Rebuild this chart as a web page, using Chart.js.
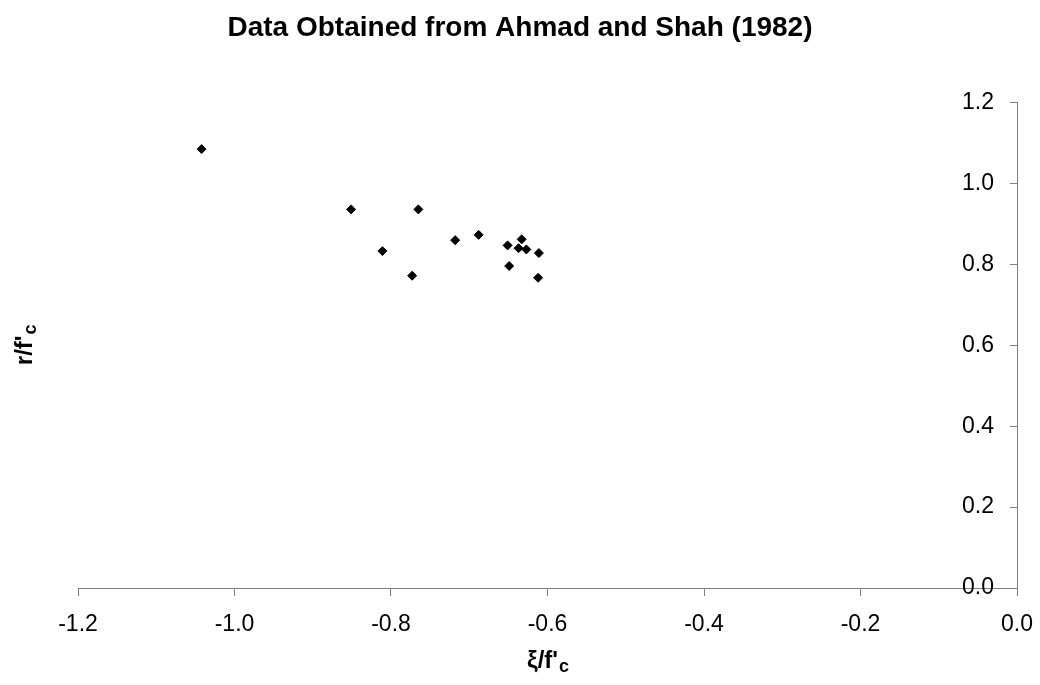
<!DOCTYPE html>
<html>
<head>
<meta charset="utf-8">
<title>Data Obtained from Ahmad and Shah (1982)</title>
<script src="https://cdn.jsdelivr.net/npm/chart.js@4.4.1/dist/chart.umd.min.js"></script>
<style>
  html, body { margin: 0; padding: 0; background: #fff; }
  canvas { display: block; }
</style>
</head>
<body>
<canvas id="scatterChart" width="1040" height="685"></canvas>
<script>
/* ---- Data ---- */
const CHART_TITLE = 'Data Obtained from Ahmad and Shah (1982)';
const X_TITLE = ['ξ/f\'', 'c'];   // main text, subscript
const Y_TITLE = ['r/f\'', 'c'];

const X_VALUES = [-1.042, -0.851, -0.765, -0.811, -0.773, -0.718, -0.688, -0.651, -0.633, -0.637, -0.627, -0.611, -0.649, -0.612];
const Y_VALUES = [1.085, 0.936, 0.936, 0.833, 0.772, 0.860, 0.873, 0.847, 0.862, 0.840, 0.837, 0.828, 0.796, 0.767];

const X_TICKS = [-1.2, -1.0, -0.8, -0.6, -0.4, -0.2, 0.0];
const Y_TICKS = [0.0, 0.2, 0.4, 0.6, 0.8, 1.0, 1.2];

/* ---- Style ---- */
const FONT_FAMILY = '"Liberation Sans", Arial, sans-serif';
const AXIS_GREY   = '#808080';

const fmt = v => (Math.abs(v) < 1e-9 ? 0 : v).toFixed(1);

/* ---- Axis titles with subscript c (Chart.js titles can't do subscripts) ---- */
function drawSubscripted(ctx, parts, cx, cy) {
  const mainFont = 'bold 24px ' + FONT_FAMILY;
  const subFont  = 'bold 18px ' + FONT_FAMILY;
  ctx.font = mainFont;
  const w1 = ctx.measureText(parts[0]).width;
  ctx.font = subFont;
  const w2 = ctx.measureText(parts[1]).width;
  const x = cx - (w1 + w2) / 2;
  ctx.textAlign = 'left';
  ctx.textBaseline = 'middle';
  ctx.font = mainFont;
  ctx.fillText(parts[0], x, cy);
  ctx.font = subFont;
  ctx.fillText(parts[1], x + w1 + 1, cy + 6);
}

const axisTitles = {
  id: 'axisTitles',
  afterDraw(chart) {
    const { ctx, chartArea } = chart;
    ctx.save();
    ctx.fillStyle = '#000';
    drawSubscripted(ctx, X_TITLE, (chartArea.left + chartArea.right) / 2, 661);
    ctx.translate(25, (chartArea.top + chartArea.bottom) / 2);
    ctx.rotate(-Math.PI / 2);
    drawSubscripted(ctx, Y_TITLE, 0, 0);
    ctx.restore();
  }
};

/* ---- Chart ---- */
const points = X_VALUES.map((x, i) => ({ x, y: Y_VALUES[i] }));

new Chart(document.getElementById('scatterChart').getContext('2d'), {
  type: 'scatter',
  data: {
    datasets: [{
      label: 'Ahmad and Shah (1982)',
      data: points,
      pointStyle: 'rectRot',
      pointRadius: 4.5,
      pointBackgroundColor: '#000',
      pointBorderColor: '#000',
      pointBorderWidth: 1
    }]
  },
  options: {
    responsive: false,
    animation: false,
    layout: { padding: { left: 0, right: 0, top: 0, bottom: 97 } },
    plugins: {
      legend: { display: false },
      tooltip: { enabled: false },
      title: {
        display: true,
        text: CHART_TITLE,
        color: '#000',
        font: { family: FONT_FAMILY, size: 28, weight: 'bold', lineHeight: 1.2 },
        padding: { top: 11, bottom: 58 }
      }
    },
    scales: {
      x: {
        type: 'linear',
        position: { y: 0 },
        min: -1.2,
        max: 0,
        afterBuildTicks: axis => { axis.ticks = X_TICKS.map(v => ({ value: v })); },
        // plot area margins left/right (title stays centred on the whole canvas)
        afterFit: axis => { axis.paddingLeft = 78; axis.paddingRight = 23; },
        ticks: { color: '#000', padding: 16, maxRotation: 0, font: { family: FONT_FAMILY, size: 23 }, callback: fmt },
        grid: { drawOnChartArea: false, drawTicks: true, tickLength: 7, color: AXIS_GREY },
        border: { color: AXIS_GREY, width: 1 }
      },
      y: {
        type: 'linear',
        position: { x: 0 },
        min: 0,
        max: 1.2,
        afterBuildTicks: axis => { axis.ticks = Y_TICKS.map(v => ({ value: v })); },
        // labels sit left of the inward tick marks; en spaces give the gap
        ticks: { color: '#000', font: { family: FONT_FAMILY, size: 23 }, callback: v => fmt(v) + '\u2002\u2002' },
        grid: { drawOnChartArea: false, drawTicks: true, tickLength: 7, color: AXIS_GREY },
        border: { color: AXIS_GREY, width: 1 }
      }
    }
  },
  plugins: [axisTitles]
});
</script>
</body>
</html>
